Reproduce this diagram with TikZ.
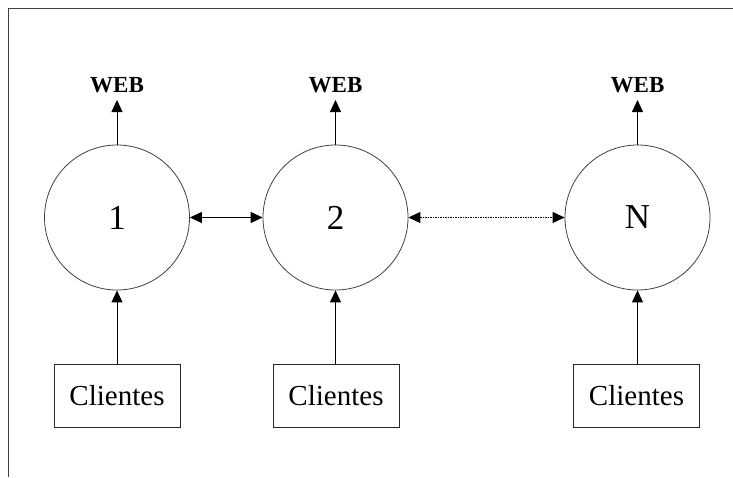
\documentclass[tikz,border=0pt]{standalone}
\usepackage{fontspec}
\setmainfont{Liberation Serif}
\usetikzlibrary{arrows.meta}
\begin{document}
\begin{tikzpicture}[x=1pt,y=-1pt,
  server/.style={circle,draw=black!75,line width=0.8pt,minimum size=145pt,inner sep=0pt,font=\fontsize{35}{40}\selectfont},
  clientbox/.style={rectangle,draw=black!85,line width=0.9pt,minimum width=126pt,minimum height=63pt,inner sep=0pt,font=\fontsize{29}{33}\selectfont},
  weblabel/.style={inner sep=0pt,font=\fontsize{23}{26}\selectfont\bfseries},
  conn/.style={line width=0.9pt,-{Triangle[length=12pt,width=11pt]}},
  biconn/.style={line width=0.9pt,{Triangle[length=12pt,width=11pt]}-{Triangle[length=12pt,width=11pt]}},
  frameline/.style={draw=black!75,line width=1pt}]
\useasboundingbox (0,0) rectangle (733,477);
\coordinate (ftr) at (733,8.5);
\coordinate (ftl) at (8.5,8.5);
\coordinate (fbl) at (8.5,477);
\draw[frameline] (ftr) -- (ftl) -- (fbl);
\node[server] (s1) at (117,217.5) {1};
\node[server] (s2) at (335.5,217.5) {2};
\node[server] (sn) at (637.5,217.5) {N};
\node[weblabel] (w1) at (117,85.5) {WEB};
\node[weblabel] (w2) at (335.5,85.5) {WEB};
\node[weblabel] (wn) at (637.5,85.5) {WEB};
\coordinate (t1) at (117,100);
\coordinate (t2) at (335.5,100);
\coordinate (tn) at (637.5,100);
\node[clientbox] (c1) at (117,396) {Clientes};
\node[clientbox] (c2) at (336,396) {Clientes};
\node[clientbox] (cn) at (636.5,396) {Clientes};
\draw[conn] (s1.north) -- (t1);
\draw[conn] (s2.north) -- (t2);
\draw[conn] (sn.north) -- (tn);
\draw[conn] (c1.north) -- (s1.south);
\draw[conn] (c2.north -| s2) -- (s2.south);
\draw[conn] (cn.north -| sn) -- (sn.south);
\draw[biconn] (s1.east) -- (s2.west);
\draw[biconn,dash pattern=on 1.5pt off 1pt] (s2.east) -- (sn.west);
\end{tikzpicture}
\end{document}
